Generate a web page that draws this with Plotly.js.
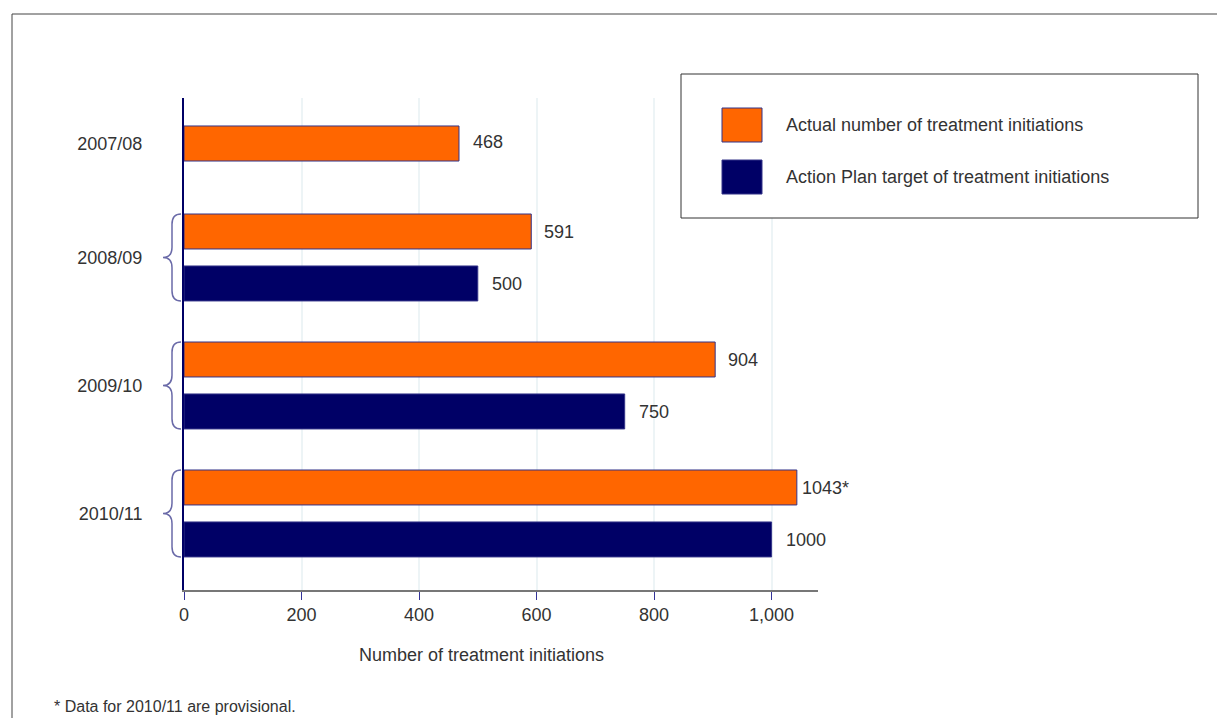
<!DOCTYPE html>
<html>
<head>
<meta charset="utf-8">
<script src="https://cdn.plot.ly/plotly-3.0.1.min.js"></script>
<style>
  html, body { margin: 0; padding: 0; background: #ffffff; }
  #chart { width: 1217px; height: 718px; }
</style>
</head>
<body>
<div id="chart"></div>
<script>
// ---- data ----
const years = ['2007/08', '2008/09', '2009/10', '2010/11'];
const actual = [468, 591, 904, 1043];
const target = [null, 500, 750, 1000];
const seriesNames = ['Actual number of treatment initiations', 'Action Plan target of treatment initiations'];
const provisionalYear = '2010/11';
const xTickVals = [0, 200, 400, 600, 800, 1000];
const xTitle = 'Number of treatment initiations';
const footnote = '* Data for 2010/11 are provisional.';

// ---- style ----
const W = 1217, H = 718;
const M = { l: 184, r: 399, t: 98, b: 128 };
const PW = W - M.l - M.r, PH = H - M.t - M.b;
const px = x => (x - M.l) / PW;          // pixel -> paper x
const py = y => (H - M.b - y) / PH;      // pixel -> paper y
const FONT = '"Liberation Sans", Arial, sans-serif';
const TXT = '#333333';
const ORANGE = '#ff6600', NAVY = '#000066', OUTLINE = '#333388';

// split: years without a target go to the top panel
const topYears = [], topActual = [];
const grpYears = [], grpActual = [], grpTarget = [];
years.forEach((y, i) => {
  if (target[i] === null) { topYears.push(y); topActual.push(actual[i]); }
  else { grpYears.push(y); grpActual.push(actual[i]); grpTarget.push(target[i]); }
});

const barLine = { color: OUTLINE, width: 1 };
const traces = [
  { type: 'bar', orientation: 'h', name: seriesNames[0], x: topActual, y: topYears,
    xaxis: 'x', yaxis: 'y2', width: 0.385,
    marker: { color: ORANGE, line: barLine }, hoverinfo: 'x+y' },
  { type: 'bar', orientation: 'h', name: seriesNames[0], x: grpActual, y: grpYears,
    xaxis: 'x', yaxis: 'y',
    marker: { color: ORANGE, line: barLine }, hoverinfo: 'x+y' },
  { type: 'bar', orientation: 'h', name: seriesNames[1], x: grpTarget, y: grpYears,
    xaxis: 'x', yaxis: 'y',
    marker: { color: NAVY, line: barLine }, hoverinfo: 'x+y' }
];

const labelText = (v, yr) => String(v) + (yr === provisionalYear ? '*' : '');
const annotations = [];
topYears.forEach((yr, i) => annotations.push({
  x: topActual[i], y: yr, xref: 'x', yref: 'y2', text: labelText(topActual[i], yr),
  xanchor: 'left', yanchor: 'middle', xshift: 12, yshift: 2, showarrow: false,
  font: { family: FONT, size: 18, color: TXT }
}));
grpYears.forEach((yr, i) => {
  annotations.push({
    x: grpActual[i], y: yr, xref: 'x', yref: 'y', text: labelText(grpActual[i], yr),
    xanchor: 'left', yanchor: 'middle', xshift: yr === provisionalYear ? 3 : 11, yshift: 25,
    showarrow: false, font: { family: FONT, size: 18, color: TXT }
  });
  annotations.push({
    x: grpTarget[i], y: yr, xref: 'x', yref: 'y', text: labelText(grpTarget[i], ''),
    xanchor: 'left', yanchor: 'middle', xshift: 12, yshift: -27,
    showarrow: false, font: { family: FONT, size: 18, color: TXT }
  });
});

// x title, footnote
annotations.push({ x: px(481), y: py(655), xref: 'paper', yref: 'paper', text: xTitle,
  xanchor: 'center', yanchor: 'middle', showarrow: false, font: { family: FONT, size: 18, color: TXT } });
annotations.push({ x: px(52), y: py(706), xref: 'paper', yref: 'paper', text: footnote,
  xanchor: 'left', yanchor: 'middle', showarrow: false, font: { family: FONT, size: 16, color: TXT } });

// legend (custom, large swatches)
const shapes = [];
shapes.push({ type: 'rect', xref: 'paper', yref: 'paper', x0: px(12), x1: px(1240), y0: py(14), y1: py(760),
  line: { color: '#444444', width: 1 }, fillcolor: 'rgba(0,0,0,0)', layer: 'below' });
shapes.push({ type: 'rect', xref: 'paper', yref: 'paper', x0: px(681), x1: px(1198), y0: py(74), y1: py(218),
  line: { color: '#333333', width: 1 }, fillcolor: '#ffffff' });
[[ORANGE, 108, 125], [NAVY, 160, 177]].forEach(([c, top, ty], k) => {
  shapes.push({ type: 'rect', xref: 'paper', yref: 'paper', x0: px(722), x1: px(762), y0: py(top), y1: py(top + 34),
    line: { color: OUTLINE, width: 1 }, fillcolor: c });
  annotations.push({ x: px(784), y: py(ty), xref: 'paper', yref: 'paper', text: seriesNames[k],
    xanchor: 'left', yanchor: 'middle', showarrow: false, font: { family: FONT, size: 18, color: TXT } });
});

// braces around grouped categories
const bx1 = px(181), bxm = px(172), bx0 = px(163);
const h = 0.34, r = 0.08;
grpYears.forEach((yr, i) => {
  const a = i - h, b = i + h;
  const path = `M ${bx1},${a} Q ${bxm},${a} ${bxm},${a + r} L ${bxm},${i - r} Q ${bxm},${i} ${bx0},${i} ` +
               `Q ${bxm},${i} ${bxm},${i + r} L ${bxm},${b - r} Q ${bxm},${b} ${bx1},${b}`;
  shapes.push({ type: 'path', xref: 'paper', yref: 'y', path: path,
    line: { color: '#6a6aa8', width: 1.5 } });
});

const split = py(189);
const yCommon = {
  type: 'category', showline: true, linecolor: NAVY, linewidth: 2,
  ticks: 'outside', ticklen: 36, tickcolor: 'rgba(0,0,0,0)',
  showgrid: false, zeroline: false, fixedrange: true,
  tickfont: { family: FONT, size: 18, color: TXT }
};

const layout = {
  width: W, height: H,
  margin: M,
  paper_bgcolor: '#ffffff', plot_bgcolor: '#ffffff',
  showlegend: false,
  barmode: 'group', bargap: 0.188, bargroupgap: 0.327,
  font: { family: FONT, size: 18, color: TXT },
  xaxis: {
    range: [0, 1079], tickvals: xTickVals, tickformat: ',d',
    showline: true, linecolor: '#777777', linewidth: 1.5,
    ticks: 'outside', ticklen: 8, tickcolor: '#333399', tickwidth: 1,
    showgrid: true, gridcolor: '#edf4f6', gridwidth: 2, zeroline: false,
    tickfont: { family: FONT, size: 18, color: TXT }, fixedrange: true, anchor: 'y'
  },
  yaxis: Object.assign({}, yCommon, {
    domain: [0, split], anchor: 'x',
    categoryorder: 'array', categoryarray: grpYears,
    range: [2.598, -0.535]
  }),
  yaxis2: Object.assign({}, yCommon, {
    domain: [split, 1], anchor: 'x',
    categoryorder: 'array', categoryarray: topYears,
    range: [0.5, -0.5]
  }),
  shapes: shapes,
  annotations: annotations
};

Plotly.newPlot('chart', traces, layout, { displayModeBar: false, staticPlot: true });
</script>
</body>
</html>
